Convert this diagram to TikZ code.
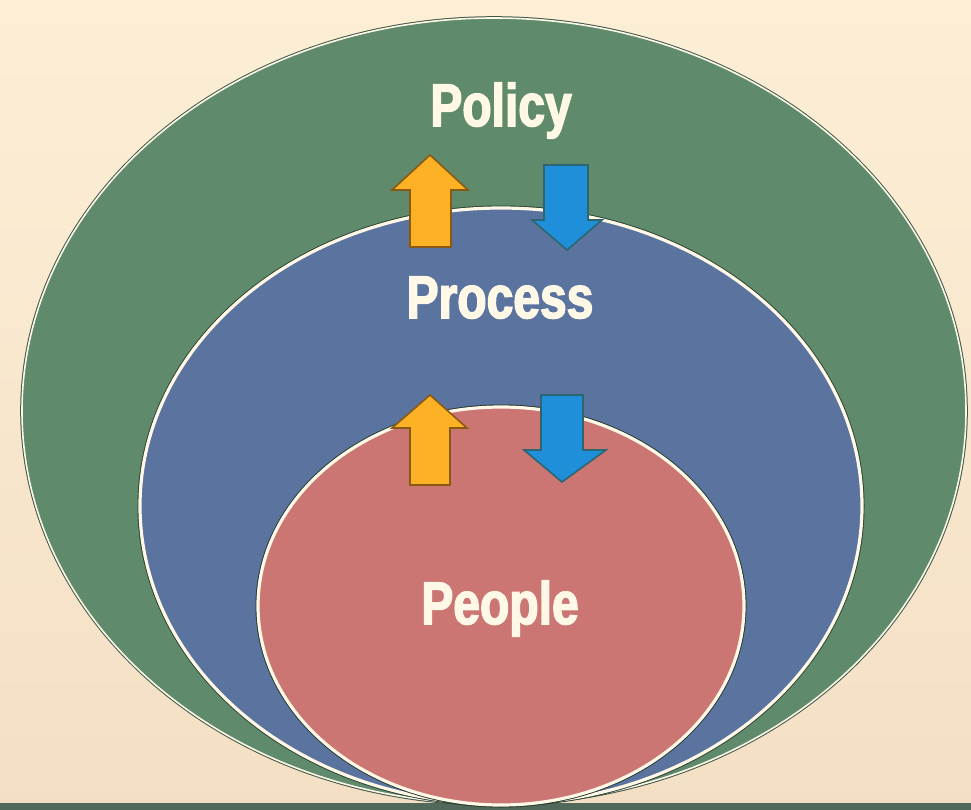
\documentclass[tikz,border=0pt]{standalone}
\usepackage{fontspec}
\newfontfamily\lab[FakeStretch=0.8,FakeBold=2.5]{Liberation Sans}
\definecolor{bgtop}{HTML}{FCEFD6}
\definecolor{bgbot}{HTML}{F4DFC4}
\definecolor{greenc}{HTML}{5F8A6B}
\definecolor{bluec}{HTML}{5A739F}
\definecolor{pinkc}{HTML}{CC7674}
\definecolor{creamc}{HTML}{FFF8E6}
\definecolor{stripc}{HTML}{50695A}
\definecolor{orangec}{HTML}{FDB124}
\definecolor{orangeo}{HTML}{8A5A14}
\definecolor{bluea}{HTML}{1F8FD9}
\definecolor{blueo}{HTML}{2C6670}
\definecolor{edgec}{HTML}{3E5A48}
\tikzset{
  ring/.style={draw=creamc, line width=3.2pt},
  outerring/.style={draw=creamc, line width=1.6pt},
  uparrow/.style={fill=orangec, draw=orangeo, line width=1.6pt, line join=miter},
  downarrow/.style={fill=bluea, draw=blueo, line width=1.6pt, line join=miter},
  lbl/.style={font=\lab\bfseries\fontsize{60}{60}\selectfont, text=creamc, anchor=base, inner sep=0pt}
}
\begin{document}
\begin{tikzpicture}[x=1pt,y=-1pt]
\useasboundingbox (0,0) rectangle (971,810);
\shade[top color=bgtop, bottom color=bgbot] (0,0) rectangle (971,810);
\fill[stripc] (0,803) rectangle (971,810);
% ellipses
\draw[edgec, line width=3.6pt] (494,411) ellipse [x radius=472, y radius=393];
\filldraw[fill=greenc, outerring] (494,411) ellipse [x radius=472, y radius=393];
\draw[edgec!70!black, line width=5pt] (501,506) ellipse [x radius=361, y radius=298];
\filldraw[fill=bluec, ring] (501,506) ellipse [x radius=361, y radius=298];
\draw[edgec!60!black, line width=5pt] (501,606) ellipse [x radius=243, y radius=199];
\filldraw[fill=pinkc, ring] (501,606) ellipse [x radius=243, y radius=199];
% arrows upper
\draw[uparrow] (410,247) -- (410,190) -- (392,190) -- (430,155) -- (468,190) -- (451,190) -- (451,247) -- cycle;
\draw[downarrow] (544,165) -- (588,165) -- (588,220) -- (602,220) -- (567,250) -- (532,220) -- (544,220) -- cycle;
% arrows lower
\draw[uparrow] (410,485) -- (410,428) -- (392,428) -- (430,395) -- (467,428) -- (450,428) -- (450,485) -- cycle;
\draw[downarrow] (541,395) -- (583,395) -- (583,450) -- (606,450) -- (562,482) -- (524,450) -- (541,450) -- cycle;
% labels
\node[lbl] (policy) at (501,126) {Policy};
\node[lbl] (process) at (500,318) {Process};
\node[lbl] (people) at (500,624) {People};
\end{tikzpicture}
\end{document}
